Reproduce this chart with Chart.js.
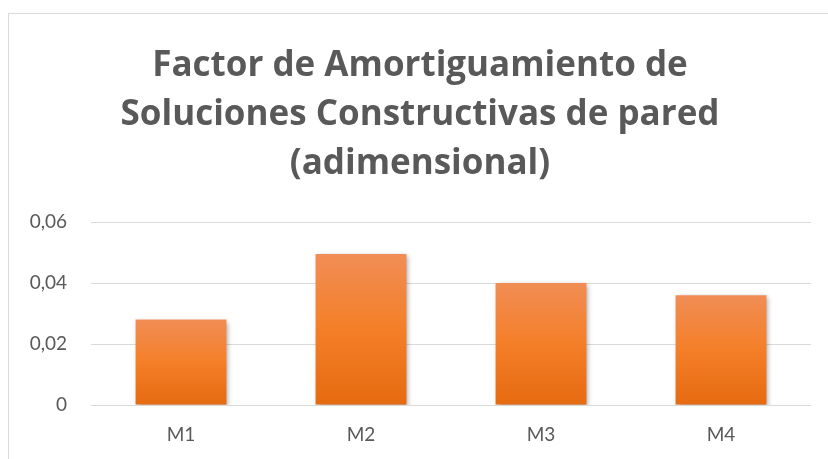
<!DOCTYPE html>
<html>
<head>
<meta charset="utf-8">
<script src="https://cdn.jsdelivr.net/npm/chart.js@4.4.1/dist/chart.umd.min.js"></script>
<style>
  html, body { margin: 0; padding: 0; background: #fff; overflow: hidden; width: 828px; height: 459px; }
  #frame {
    position: absolute; left: 8px; top: 13px;
    width: 830px; height: 460px;
    border: 1px solid #d9d9d9; box-sizing: border-box;
  }
  #wrap { position: absolute; left: 8px; top: 13px; width: 824px; height: 446px; }
</style>
</head>
<body>
<div id="frame"></div>
<div id="wrap"><canvas id="chart"></canvas></div>
<script>
const categories = ['M1', 'M2', 'M3', 'M4'];
const factorValues = [0.028, 0.0495, 0.04, 0.036];
const yTicks = [0, 0.02, 0.04, 0.06];
const titleLines = ['Factor de Amortiguamiento de', 'Soluciones Constructivas de pared', '(adimensional)'];

document.addEventListener('DOMContentLoaded', () => {
    const ctx = document.getElementById('chart').getContext('2d');

    // orange gradient per bar, lighter at the top
    function barGradient(context) {
        const chart = context.chart;
        if (!chart.chartArea) return '#f07f26';
        const y = chart.scales.y;
        const top = y.getPixelForValue(context.raw);
        const bottom = y.getPixelForValue(0);
        const g = chart.ctx.createLinearGradient(0, top, 0, bottom);
        g.addColorStop(0, '#f18d55');
        g.addColorStop(0.5, '#f47f28');
        g.addColorStop(1, '#e66a10');
        return g;
    }

    // soft drop shadow behind the bars
    const barShadow = {
        id: 'barShadow',
        beforeDatasetsDraw(chart) {
            const c = chart.ctx;
            c.save();
            c.shadowColor = 'rgba(0, 0, 0, 0.35)';
            c.shadowBlur = 5;
            c.shadowOffsetX = 2;
            c.shadowOffsetY = 2;
        },
        afterDatasetsDraw(chart) {
            chart.ctx.restore();
        }
    };

    new Chart(ctx, {
        type: 'bar',
        data: {
            labels: categories,
            datasets: [{
                data: factorValues,
                backgroundColor: barGradient,
                borderWidth: 0,
                categoryPercentage: 1,
                barPercentage: 0.505
            }]
        },
        options: {
            responsive: true,
            maintainAspectRatio: false,
            animation: false,
            layout: { padding: { left: 21, right: 21, top: 0, bottom: 0 } },
            plugins: {
                legend: { display: false },
                tooltip: { enabled: false },
                title: {
                    display: true,
                    text: titleLines,
                    color: '#595959',
                    font: { family: 'Open Sans', size: 35, weight: 'bold', lineHeight: 1.4 },
                    padding: { top: 29, bottom: 33 }
                }
            },
            scales: {
                x: {
                    afterFit(scale) { scale.height = 54; },
                    grid: { display: false, drawTicks: false },
                    border: { display: false },
                    ticks: {
                        color: '#595959',
                        font: { family: 'Lato', size: 19 },
                        padding: 18
                    }
                },
                y: {
                    min: 0,
                    max: 0.06,
                    afterFit(scale) { scale.width = 62; },
                    afterBuildTicks(scale) { scale.ticks = yTicks.map(v => ({ value: v })); },
                    grid: { color: '#d9d9d9', lineWidth: 1, drawTicks: false },
                    border: { display: false },
                    ticks: {
                        color: '#595959',
                        font: { family: 'Lato', size: 19 },
                        padding: 24,
                        callback: (v) => v === 0 ? '0' : v.toFixed(2).replace('.', ',')
                    }
                }
            }
        },
        plugins: [barShadow]
    });
});
</script>
</body>
</html>
